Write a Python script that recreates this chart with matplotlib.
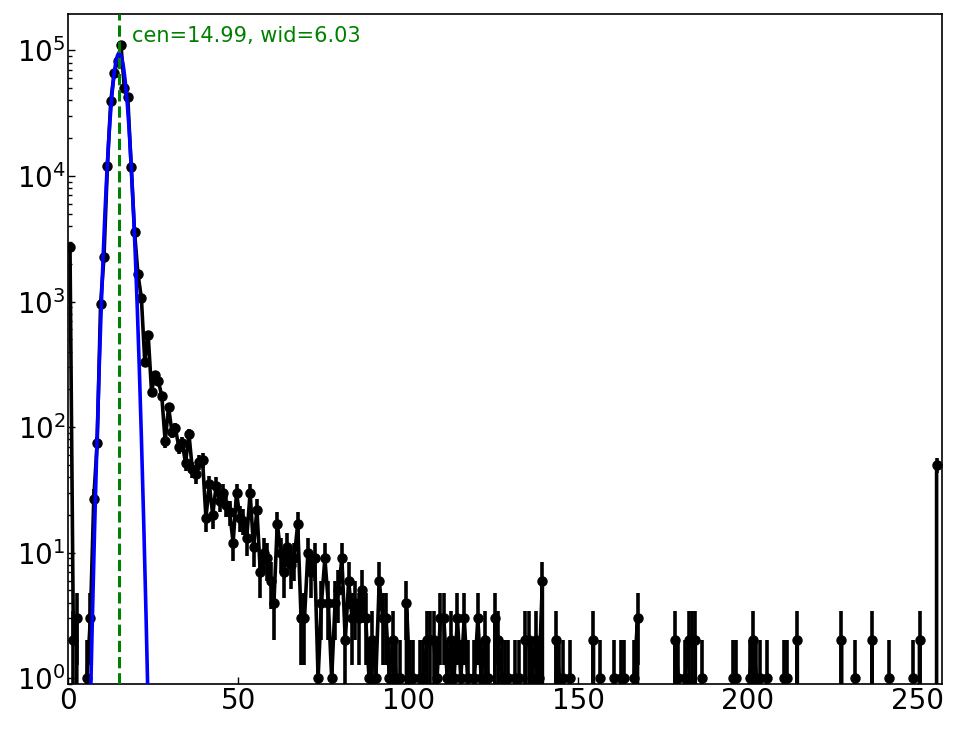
import numpy as np
import matplotlib
matplotlib.use("Agg")
import matplotlib.pyplot as plt

# histogram counts for pixel values 0..255 (bin centres at i + 0.5)
counts = [
    2720, 2, 3, 0, 0, 1, 3, 27, 75, 955, 2260, 12000, 39600, 65800, 83000, 110000,
    50000, 42400, 11800, 3550, 1650, 1070, 333, 543, 192, 261, 231, 178, 77, 144, 92, 98,
    70, 75, 52, 88, 46, 42, 53, 55, 19, 35, 20, 34, 26, 30, 24, 21,
    12, 30, 19, 18, 13, 30, 11, 22, 7, 10, 9, 6, 4, 17, 10, 7,
    11, 8, 9, 17, 3, 3, 10, 7, 9, 1, 4, 9, 4, 1, 4, 5,
    9, 2, 6, 3, 4, 3, 5, 3, 1, 2, 1, 6, 3, 3, 1, 2,
    1, 1, 0, 4, 1, 1, 0, 1, 1, 2, 2, 2, 1, 3, 3, 1,
    2, 1, 3, 1, 3, 1, 0, 1, 3, 1, 2, 1, 0, 3, 2, 1,
    1, 1, 0, 1, 1, 0, 2, 2, 1, 2, 1, 6, 0, 0, 0, 2,
    1, 1, 0, 1, 0, 0, 0, 0, 0, 0, 2, 0, 1, 0, 0, 0,
    1, 0, 1, 1, 0, 0, 1, 3, 0, 0, 0, 0, 0, 0, 0, 0,
    0, 0, 2, 1, 0, 1, 2, 2, 2, 0, 1, 0, 0, 0, 0, 0,
    0, 0, 0, 1, 1, 0, 0, 0, 1, 2, 1, 1, 0, 1, 0, 0,
    0, 0, 1, 1, 0, 0, 2, 0, 0, 0, 0, 0, 0, 0, 0, 0,
    0, 0, 0, 2, 0, 0, 0, 1, 0, 0, 0, 0, 2, 0, 0, 0,
    0, 1, 0, 0, 0, 0, 0, 0, 1, 0, 2, 0, 0, 0, 0, 50,
]

# Gaussian fit parameters shown in the label
fit_cen = 14.99
fit_wid = 6.03
fit_amp = 9.5e4

xticks = [0, 50, 100, 150, 200, 250]

counts = np.array(counts, dtype=float)
x = np.arange(len(counts)) + 0.5
err = np.sqrt(counts)

fig = plt.figure(figsize=(9.64, 7.29), dpi=100)
ax = fig.add_axes([68.3 / 964, 1 - 684 / 729, (941.7 - 68.3) / 964, (684 - 14) / 729])
ax.set_yscale("log", nonpositive="clip")

ax.errorbar(x, counts, yerr=err, fmt="o-", color="black", ms=6.5, lw=2.6,
            elinewidth=2.6, capsize=0, zorder=2)

xf = np.linspace(0, 257, 3000)
yf = fit_amp * np.exp(-(xf - fit_cen) ** 2 / fit_wid)
ax.plot(xf, yf, color="blue", lw=2.6, zorder=3)

ax.axvline(fit_cen, color="green", ls="--", lw=2.2, zorder=4)
ax.text(18.7, 1.3e5, f"cen={fit_cen:.2f}, wid={fit_wid:.2f}", color="green",
        fontsize=15, va="center", ha="left")

ax.set_xlim(0, 257)
ax.set_ylim(0.9, 1.95e5)
ax.set_xticks(xticks)
ax.tick_params(axis="both", which="both", direction="in", labelsize=20, pad=2)
ax.tick_params(axis="both", which="major", length=5, width=1)
ax.tick_params(axis="both", which="minor", length=3, width=1)
ax.tick_params(axis="x", which="minor", bottom=False)
for s in ax.spines.values():
    s.set_linewidth(1.2)

fig.savefig("out.png", dpi=100)
